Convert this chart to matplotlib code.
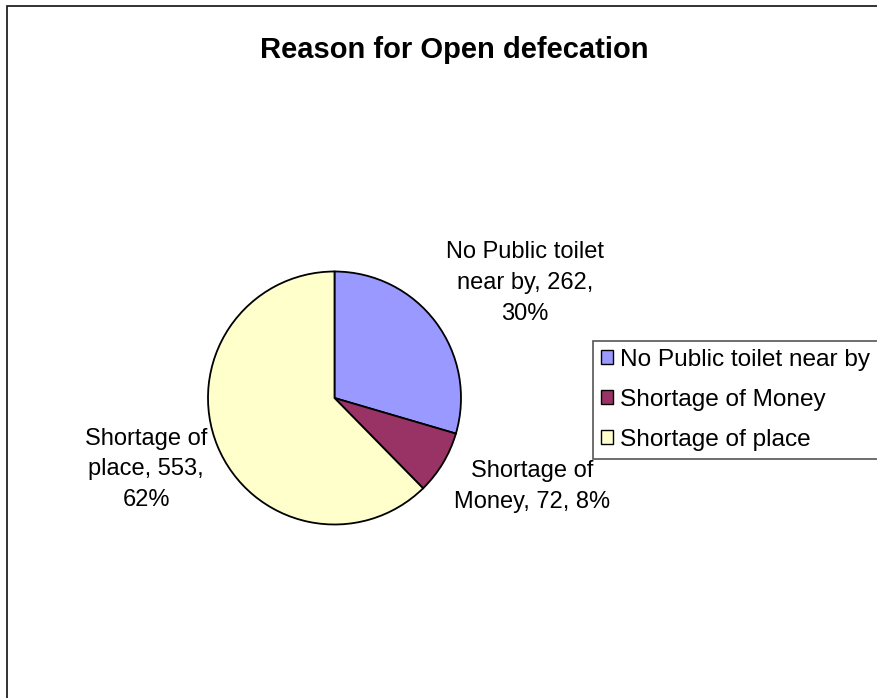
import matplotlib
matplotlib.use("Agg")
import matplotlib.pyplot as plt
from matplotlib.patches import Rectangle, Patch

plt.rcParams["font.family"] = ["Liberation Sans", "DejaVu Sans"]

# Survey answers
reasons = ["No Public toilet near by", "Shortage of Money", "Shortage of place"]
counts = [262, 72, 553]
percents = [30, 8, 62]
label_text = ["No Public toilet\nnear by, {},\n{}%",
              "Shortage of\nMoney, {}, {}%",
              "Shortage of\nplace, {},\n{}%"]
colors = ["#9999FF", "#993366", "#FFFFCC"]

W, H = 877, 698
fig = plt.figure(figsize=(W / 100, H / 100), dpi=100)

# outer chart border (right/bottom run off the image)
fig.patches.append(Rectangle((7 / W, -0.1), 2, 1 - 6 / H + 0.1,
                             transform=fig.transFigure, fill=False,
                             edgecolor="#222222", lw=1.3))

fig.text(454 / W, 1 - 58 / H, "Reason for Open defecation",
         ha="center", va="baseline", fontsize=21, fontweight="bold")

cx, cy, r = 334.5, 398, 126.5
ax = fig.add_axes([(cx - r) / W, 1 - (cy + r) / H, 2 * r / W, 2 * r / H])
wedges, _ = ax.pie(counts, colors=colors, startangle=90, counterclock=False,
                   wedgeprops=dict(edgecolor="black", linewidth=1.3))
ax.set_xlim(-1, 1)
ax.set_ylim(-1, 1)

# label positions in pie radius units
label_pos = [(1.505, 0.91), (1.565, -0.70), (-1.49, -0.565)]
for txt, n, p, (x, y) in zip(label_text, counts, percents, label_pos):
    ax.text(x, y, txt.format(n, p), ha="center", va="center",
            fontsize=17, linespacing=1.52, clip_on=False)

handles = [Patch(facecolor=c, edgecolor="black", lw=1) for c in colors]
leg = fig.legend(handles, reasons, loc="upper left",
                 bbox_to_anchor=(593 / W, 1 - 341 / H), borderaxespad=0,
                 fontsize=17.6, frameon=True, fancybox=False, framealpha=1,
                 edgecolor="#555555", handlelength=0.5, handleheight=0.5,
                 handletextpad=0.3, labelspacing=0.74, borderpad=0.32)
leg.get_frame().set_linewidth(1.2)

fig.savefig("out.png", dpi=100)
